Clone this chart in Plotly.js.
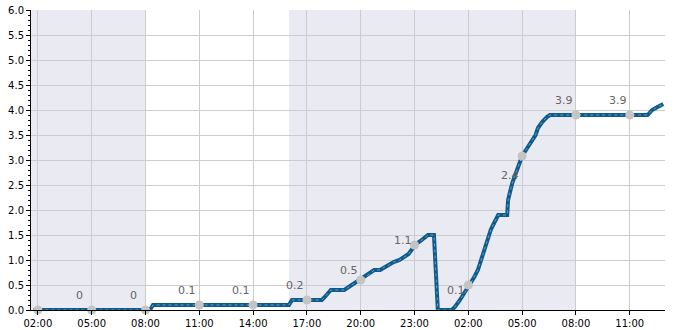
<!DOCTYPE html>
<html><head><meta charset="utf-8">
<script src="https://cdn.plot.ly/plotly-3.0.1.min.js"></script>
<style>html,body{margin:0;padding:0;background:#fff}#chart{width:685px;height:330px}</style>
</head><body><div id="chart"></div>
<script>
const lineTimes = [
 '2024-01-01 01:45','2024-01-01 05:00','2024-01-01 08:15','2024-01-01 08:25','2024-01-01 16:00','2024-01-01 16:10',
 '2024-01-01 17:50','2024-01-01 18:00','2024-01-01 18:10','2024-01-01 18:20','2024-01-01 19:05','2024-01-01 19:20',
 '2024-01-01 19:35','2024-01-01 19:50','2024-01-01 20:00','2024-01-01 20:15','2024-01-01 20:30','2024-01-01 20:45',
 '2024-01-01 21:05','2024-01-01 21:20','2024-01-01 21:35','2024-01-01 21:50','2024-01-01 22:10','2024-01-01 22:25',
 '2024-01-01 22:40','2024-01-01 22:55','2024-01-01 23:00','2024-01-01 23:20','2024-01-01 23:35','2024-01-01 23:45',
 '2024-01-02 00:05','2024-01-02 00:18','2024-01-02 01:05','2024-01-02 01:15','2024-01-02 01:32','2024-01-02 01:50',
 '2024-01-02 02:05','2024-01-02 02:20','2024-01-02 02:32','2024-01-02 02:46','2024-01-02 03:03','2024-01-02 03:15',
 '2024-01-02 03:23','2024-01-02 03:40','2024-01-02 04:10','2024-01-02 04:13','2024-01-02 04:27','2024-01-02 04:43',
 '2024-01-02 05:00','2024-01-02 05:15','2024-01-02 05:27','2024-01-02 05:45','2024-01-02 05:53','2024-01-02 06:07',
 '2024-01-02 06:23','2024-01-02 06:33','2024-01-02 12:00','2024-01-02 12:15','2024-01-02 12:30','2024-01-02 12:52'
];
const lineValues = [
 0,0,0,0.1,0.1,0.2,
 0.2,0.26,0.33,0.4,0.4,0.46,
 0.52,0.56,0.6,0.66,0.72,0.8,
 0.8,0.86,0.9,0.96,1.0,1.06,
 1.12,1.24,1.3,1.38,1.44,1.5,
 1.5,0,0,0.06,0.2,0.36,
 0.5,0.66,0.8,1.06,1.4,1.6,
 1.7,1.9,1.9,2.2,2.54,2.8,
 3.08,3.22,3.34,3.5,3.64,3.76,
 3.86,3.9,3.9,4.0,4.05,4.12
];
const markTimes = ['2024-01-01 02:00','2024-01-01 05:00','2024-01-01 08:00','2024-01-01 11:00','2024-01-01 14:00','2024-01-01 17:00',
 '2024-01-01 20:00','2024-01-01 23:00','2024-01-02 02:00','2024-01-02 05:00','2024-01-02 08:00','2024-01-02 11:00'];
const markValues = [0,0,0,0.1,0.1,0.2,0.6,1.3,0.5,3.08,3.9,3.9];
const labelValues = [null,0,0,0.1,0.1,0.2,0.5,1.1,0.1,2.4,3.9,3.9];
const labelTexts = ['','0','0','0.1','0.1','0.2','0.5','1.1','0.1','2.4','3.9','3.9'];
const nightStart = ['2024-01-01 00:00','2024-01-01 16:00'];
const nightEnd = ['2024-01-01 08:00','2024-01-02 08:00'];
const yTicks = [0,0.5,1,1.5,2,2.5,3,3.5,4,4.5,5,5.5,6];

const font = {family:'DejaVu Sans', size:10, color:'#000'};
const traces = [
 {x:lineTimes, y:lineValues, mode:'lines', line:{color:'#0e5a8b', width:4}, hoverinfo:'skip', cliponaxis:false},
 {x:lineTimes, y:lineValues, mode:'lines', line:{color:'rgba(170,205,230,0.6)', width:1, dash:'dot'}, hoverinfo:'skip'},
 {x:markTimes, y:markValues, mode:'markers', marker:{color:'#c4c4c4', size:9}, hoverinfo:'skip', cliponaxis:false}
];
const shapes = nightStart.map((s,i)=>({type:'rect', xref:'x', yref:'paper', x0:s, x1:nightEnd[i], y0:0, y1:1,
  fillcolor:'#eaeaf2', line:{width:0}, layer:'below'}));
const annotations = [];
labelTexts.forEach((t,i)=>{ if(t!=='') annotations.push({x:markTimes[i], y:labelValues[i], text:t, showarrow:false,
  xshift:-12, yshift:15, font:{family:'DejaVu Sans', size:11, color:'#666'}}); });
const layout = {
 width:685, height:330, margin:{l:31, r:20, t:10, b:20},
 paper_bgcolor:'#fff', plot_bgcolor:'#fff', showlegend:false, font:font,
 shapes:shapes, annotations:annotations,
 xaxis:{type:'date', range:['2024-01-01 01:37','2024-01-02 12:58'], tick0:'2024-01-01 02:00', dtick:10800000,
   tickformat:'%H:%M', showgrid:true, gridcolor:'#cccccc', gridwidth:1, zeroline:false,
   showline:true, linecolor:'#000', linewidth:1, ticks:'outside', ticklen:4, tickcolor:'#000', tickfont:font},
 yaxis:{range:[0,6], tickvals:yTicks, tickformat:'.1f', showgrid:true, gridcolor:'#cccccc', gridwidth:1, zeroline:false,
   showline:true, linecolor:'#000', linewidth:1, ticks:'outside', ticklen:4, tickcolor:'#000', tickfont:font,
   minor:{dtick:0.1, ticks:'outside', ticklen:2, tickcolor:'#000', showgrid:false}}
};
Plotly.newPlot('chart', traces, layout, {staticPlot:true});
</script></body></html>
